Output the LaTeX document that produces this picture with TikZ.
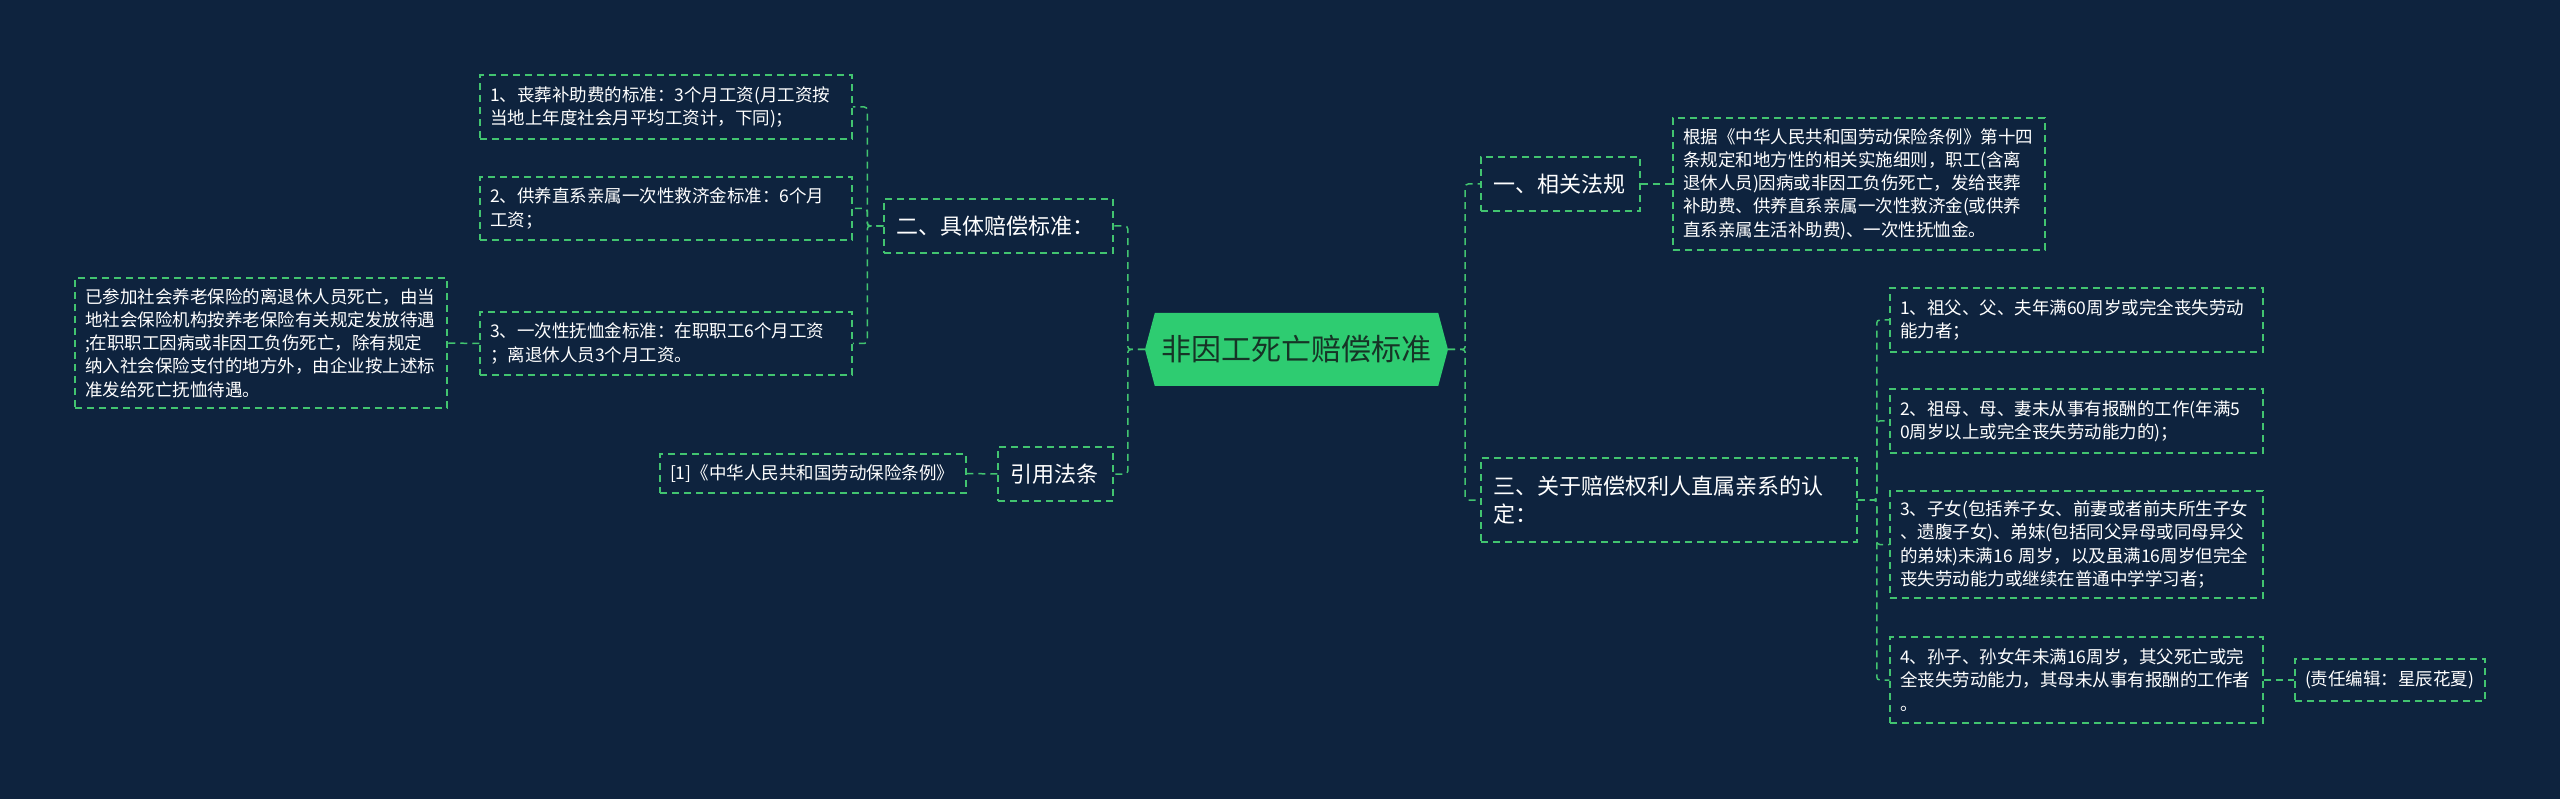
\documentclass[tikz,border=0pt]{standalone}
\usepackage{fontspec}
\setmainfont{Noto Sans CJK SC}
\usetikzlibrary{shapes.symbols}
\definecolor{night}{RGB}{14,35,62}
\definecolor{leafgreen}{RGB}{66,196,112}
\definecolor{mint}{RGB}{46,204,113}
\definecolor{pine}{RGB}{22,52,38}
\tikzset{
  x=1pt,y=-1pt,
  dashgreen/.style={draw=leafgreen,line width=1.5pt,dash pattern=on 7pt off 5pt},
  link/.style={dashgreen,rounded corners=3pt},
  topic/.style={dashgreen,text=white,font=\fontsize{22}{28}\selectfont,
    align=left,inner xsep=12pt,inner ysep=0pt,text width=#1,minimum height=54pt},
  topic/.default=135pt,
  leaf/.style={dashgreen,text=white,font=\fontsize{17.5}{23.3}\selectfont,
    align=left,inner xsep=10pt,inner ysep=0pt,text width=#1},
  leaf/.default=352pt,
  root/.style={signal,signal to=east and west,signal pointer angle=150,
    fill=mint,text=pine,font=\fontsize{30}{36}\selectfont,inner xsep=0pt,
    minimum width=303pt,minimum height=73pt},
}
\begin{document}
\begin{tikzpicture}
  \useasboundingbox (0,0) rectangle (2560,799);
  \fill[night] (0,0) rectangle (2560,799);
  % centre
  \node[root] (root) at (1296.5,349.5) {非因工死亡赔偿标准};
  % left branch
  \node[topic=205pt] (er) at (998.5,226) {二、具体赔偿标准：};
  \node[leaf,minimum height=64pt] (l1) at (666,107) {1、丧葬补助费的标准：3个月工资(月工资按\\当地上年度社会月平均工资计，下同)；};
  \node[leaf,minimum height=63pt] (l2) at (666,208.5) {2、供养直系亲属一次性救济金标准：6个月\\工资；};
  \node[leaf,minimum height=63pt] (l3) at (666,343.5) {3、一次性抚恤金标准：在职职工6个月工资\\；离退休人员3个月工资。};
  \node[leaf,minimum height=130pt] (fl) at (261,343) {已参加社会养老保险的离退休人员死亡，由当\\地社会保险机构按养老保险有关规定发放待遇\\;在职职工因病或非因工负伤死亡，除有规定\\纳入社会保险支付的地方外，由企业按上述标\\准发给死亡抚恤待遇。};
  \node[topic=91pt] (yin) at (1055.5,474) {引用法条};
  \node[leaf=286pt,minimum height=39pt] (ref) at (813,473.5) {[1]《中华人民共和国劳动保险条例》};
  % right branch
  \node[topic] (yi) at (1560.5,184) {一、相关法规};
  \node[leaf,minimum height=132pt] (desc) at (1859,184) {根据《中华人民共和国劳动保险条例》第十四\\条规定和地方性的相关实施细则，职工(含离\\退休人员)因病或非因工负伤死亡，发给丧葬\\补助费、供养直系亲属一次性救济金(或供养\\直系亲属生活补助费)、一次性抚恤金。};
  \node[topic=352pt,minimum height=84pt] (san) at (1669,500) {三、关于赔偿权利人直属亲系的认\\定：};
  \node[leaf=353pt,minimum height=64pt] (r1) at (2076.5,320) {1、祖父、父、夫年满60周岁或完全丧失劳动\\能力者；};
  \node[leaf=353pt,minimum height=64pt] (r2) at (2076.5,421) {2、祖母、母、妻未从事有报酬的工作(年满5\\0周岁以上或完全丧失劳动能力的)；};
  \node[leaf=353pt,minimum height=107pt] (r3) at (2076.5,544.5) {3、子女(包括养子女、前妻或者前夫所生子女\\、遗腹子女)、弟妹(包括同父异母或同母异父\\的弟妹)未满16 周岁，以及虽满16周岁但完全\\丧失劳动能力或继续在普通中学学习者；};
  \node[leaf=353pt,minimum height=86pt] (r4) at (2076.5,680) {4、孙子、孙女年未满16周岁，其父死亡或完\\全丧失劳动能力，其母未从事有报酬的工作者\\。};
  \node[leaf=170pt,minimum height=42pt] (ed) at (2390,680) {(责任编辑：星辰花夏)};
  % connectors
  \draw[link] (root.west) -- ++(-17,0) |- (er.east);
  \draw[link] (root.west) -- ++(-17,0) |- (yin.east);
  \draw[link] (er.west) -- ++(-16,0) |- (l1.east);
  \draw[link] (er.west) -- ++(-16,0) |- (l2.east);
  \draw[link] (er.west) -- ++(-16,0) |- (l3.east);
  \draw[link] (l3.west) -- (fl.east);
  \draw[link] (yin.west) -- (ref.east);
  \draw[link] (root.east) -- ++(17,0) |- (yi.west);
  \draw[link] (root.east) -- ++(17,0) |- (san.west);
  \draw[link] (yi.east) -- (desc.west);
  \draw[link] (san.east) -- ++(19,0) |- (r1.west);
  \draw[link] (san.east) -- ++(19,0) |- (r2.west);
  \draw[link] (san.east) -- ++(19,0) |- (r3.west);
  \draw[link] (san.east) -- ++(19,0) |- (r4.west);
  \draw[link] (r4.east) -- (ed.west);
\end{tikzpicture}
\end{document}
